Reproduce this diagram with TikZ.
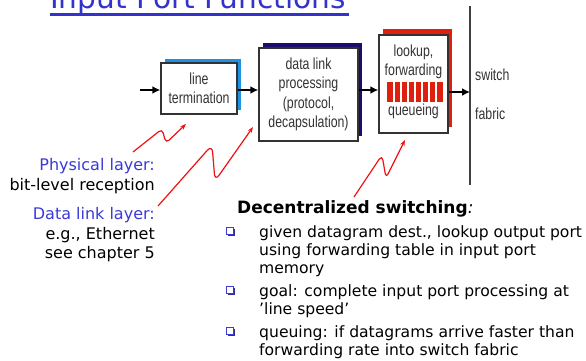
\documentclass[tikz,border=0pt]{standalone}
\usepackage{fontspec}
\setmainfont{DejaVu Sans}
\newfontfamily\boxfont{Liberation Sans}
\usetikzlibrary{arrows.meta,shadows}

\definecolor{titleblue}{HTML}{3333CC}
\definecolor{labelblue}{HTML}{3A3AD8}
\definecolor{boxtext}{HTML}{333333}
\definecolor{shblue}{HTML}{1E90E6}
\definecolor{shnavy}{HTML}{1C0C6E}
\definecolor{shred}{HTML}{E0200F}
\definecolor{zigred}{HTML}{F01010}

% condensed box lettering
\newcommand{\cnd}[1]{\scalebox{0.77}[1]{#1}}

\begin{document}
\begin{tikzpicture}[x=1pt,y=-1pt,
  stage/.style={draw=black!80, line width=1.4pt, fill=white, inner sep=0pt,
    font=\boxfont\fontsize{16}{19.5}\selectfont, text=boxtext, align=center},
  boxlabel/.style={inner sep=0pt, font=\boxfont\fontsize{16}{18.5}\selectfont,
    text=boxtext, align=center},
  flow/.style={line width=1.8pt, -{Latex[length=8pt,width=8pt]}},
  zig/.style={draw=zigred, line width=1.2pt, rounded corners=4pt,
    -{Stealth[length=6pt,width=4.5pt]}},
  sidelabel/.style={inner sep=0pt, anchor=base east, align=right,
    font=\fontsize{16}{19.5}\selectfont},
  itemtext/.style={inner sep=0pt, anchor=base west, align=left,
    font=\fontsize{15.6}{18}\selectfont},
  bulletbox/.style={draw=labelblue, fill=white, line width=1pt, inner sep=0pt,
    minimum size=7.5pt, general shadow={fill=labelblue!75!black,
    shadow xshift=1.6pt, shadow yshift=-1.6pt}}]
\useasboundingbox (0,0) rectangle (586,360);

% title, mostly above the page edge
\node[anchor=base west, inner sep=0pt, text=titleblue,
  font=\fontsize{29.6}{30}\selectfont] (title) at (50,8) {Input Port Functions};
\draw[titleblue, line width=3pt] (50,14.2) -- (349,14.2);

% processing stages
\node[stage, minimum width=76pt, minimum height=51pt,
  general shadow={fill=shblue, shadow xshift=4pt, shadow yshift=4pt}]
  (lt) at (199,88.5) {\cnd{line}\\\cnd{termination}};
\node[stage, minimum width=99pt, minimum height=93pt,
  general shadow={fill=shnavy, shadow xshift=4pt, shadow yshift=5pt}]
  (dl) at (308.5,94.5) {\cnd{data link}\\\cnd{processing}\\\cnd{(protocol,}\\\cnd{decapsulation)}};
\node[stage, minimum width=69pt, minimum height=98pt,
  general shadow={fill=shred, shadow xshift=4pt, shadow yshift=6pt}]
  (lk) at (413.5,84) {};
\node[boxlabel] (lkt) at (413.5,62) {\cnd{lookup,}\\\cnd{forwarding}};
\node[boxlabel] (lkq) at (413.5,111) {\cnd{queueing}};

% queue slots
\fill[shred] (387,82) rectangle (443,102);
\foreach \i in {1,...,7}
  \draw[white, line width=1.1pt] (387+7*\i,82) -- (387+7*\i,102);

% switch fabric
\coordinate (fabtop) at (470,6);
\coordinate (fabbot) at (470,185);
\draw[black!75, line width=1.3pt] (fabtop) -- (fabbot);
\node[boxlabel, anchor=west] (sw) at (475,75) {\cnd{switch}};
\node[boxlabel, anchor=west] (fb) at (475,114) {\cnd{fabric}};

% datagram flow
\coordinate (in) at (140,90);
\coordinate (fab) at (470,92);
\draw[flow] (in) -- (lt.west |- in);
\draw[flow] (lt.east |- in) -- (dl.west |- in);
\draw[flow] (dl.east |- in) -- (lk.west |- in);
\draw[flow] (lk.east |- fab) -- (fab);

% layer notes (anchored on the last baseline)
\node[sidelabel] (phys) at (155,190) {\textcolor{labelblue}{Physical layer:}\\bit-level reception};
\node[sidelabel] (link) at (155,258.5) {\textcolor{labelblue}{Data link layer:}\\e.g., Ethernet\\see chapter 5};

% pointers
\coordinate (p1) at (133,152);
\coordinate (p2) at (158,206);
\coordinate (p3) at (354,197);
\coordinate (t1) at (186,124);
\coordinate (t2) at (253,127);
\coordinate (t3) at (405,140);
\draw[zig] (p1) -- (162,129) -- (166,143) -- (t1);
\draw[zig, rounded corners=7pt] (p2) -- (212,145) -- (215,181) -- (t2);
\draw[zig, rounded corners=5pt] (p3) -- (382,155) -- (386,178) -- (t3);

% decentralized switching notes
\node[anchor=base west, inner sep=0pt, font=\fontsize{17}{20}\selectfont]
  (head) at (237,213) {\bfseries Decentralized switching\mdseries\itshape :};
\node[itemtext] (i1) at (259,273) {given datagram dest., lookup output port\\using forwarding table in input port\\memory};
\node[itemtext] (i2) at (259,314) {goal: complete input port processing at\\'line speed'};
\node[itemtext] (i3) at (259,355) {queuing: if datagrams arrive faster than\\forwarding rate into switch fabric};
\node[bulletbox] (b1) at (230,231) {};
\node[bulletbox] (b2) at (230,290) {};
\node[bulletbox] (b3) at (230,331) {};
\end{tikzpicture}
\end{document}
